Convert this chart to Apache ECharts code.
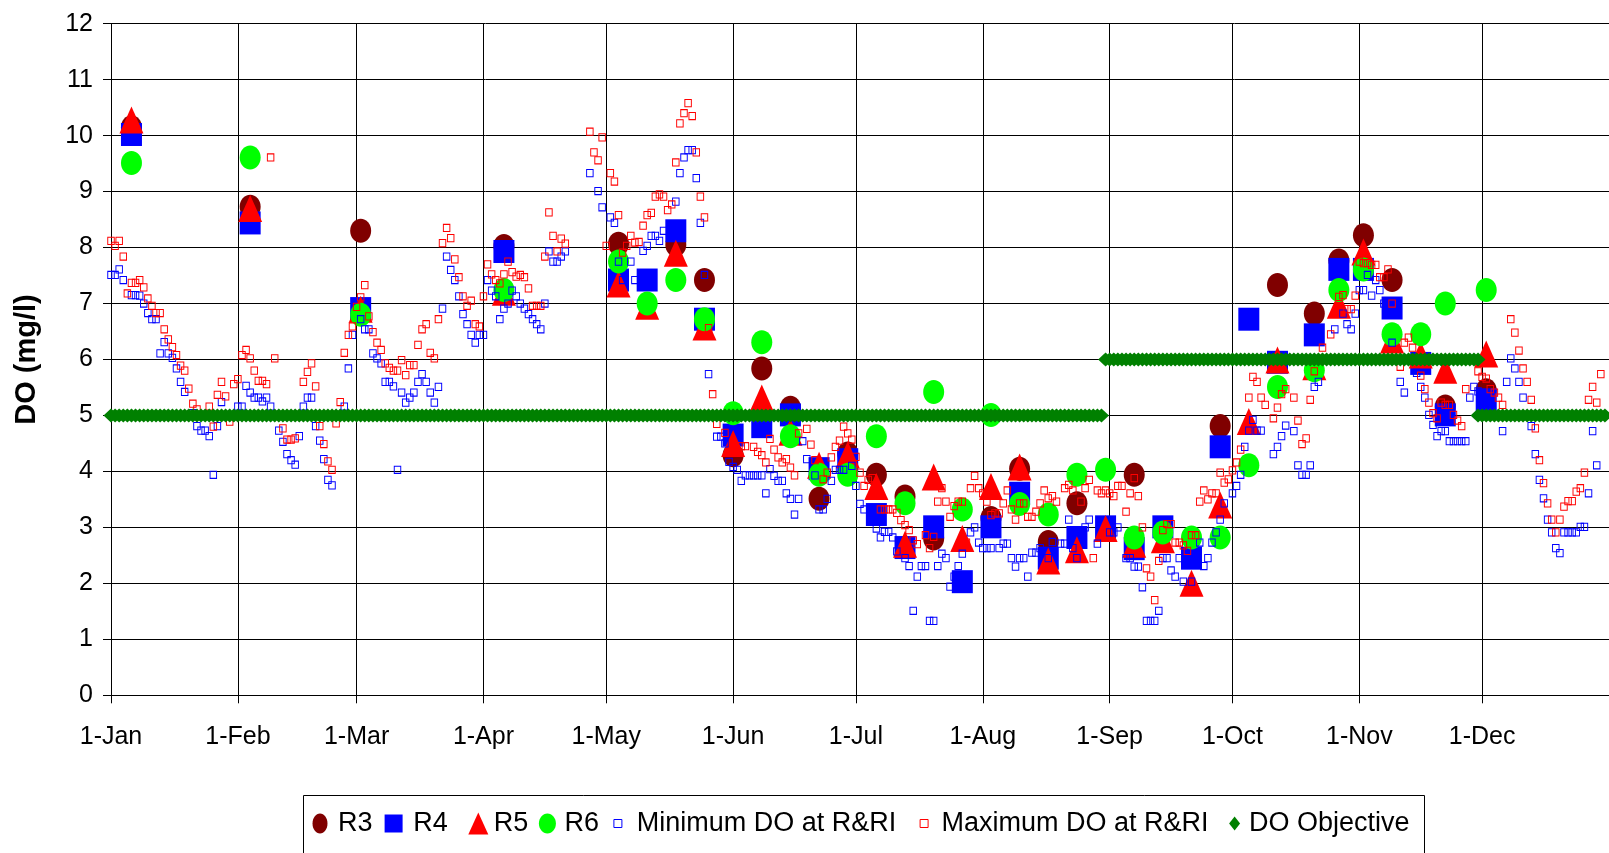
<!DOCTYPE html>
<html>
<head>
<meta charset="utf-8">
<title>DO (mg/l)</title>
<script src="https://cdn.jsdelivr.net/npm/echarts@6/dist/echarts.min.js"></script>
<style>
  html, body { margin: 0; padding: 0; background: #ffffff; }
  #chart { width: 1609px; height: 853px; }
</style>
</head>
<body>
<div id="chart"></div>
<script>
// Day-of-year positions (leap year) of the month starts on the x axis
const dayTicks = [0, 31, 60, 91, 121, 152, 182, 213, 244, 274, 305, 335];
const dayTickLabels = ['1-Jan', '1-Feb', '1-Mar', '1-Apr', '1-May', '1-Jun', '1-Jul', '1-Aug', '1-Sep', '1-Oct', '1-Nov', '1-Dec'];

// Station samples: [day of year, DO mg/l]
const r3 = [[5,10.15],[34,8.73],[61,8.30],[96,8.03],[124,8.07],[138,8.05],[145,7.42],[152,4.29],[159,5.84],[166,5.14],[173,3.51],[180,4.32],[187,3.94],[194,3.55],[201,2.80],[215,3.17],[222,4.05],[229,2.74],[236,3.43],[250,3.94],[271,4.81],[285,7.33],[294,6.82],[300,7.77],[306,8.22],[313,7.42],[326,5.16],[336,5.45]];
const r4 = [[5,10.02],[34,8.44],[61,6.91],[96,7.93],[124,7.42],[131,7.42],[138,8.30],[145,6.72],[152,4.65],[159,4.80],[166,5.01],[173,4.05],[180,4.21],[187,3.23],[194,2.64],[201,3.01],[208,2.03],[215,3.01],[222,3.61],[229,2.45],[236,2.82],[243,3.01],[250,2.62],[257,3.01],[264,2.45],[271,4.44],[278,6.72],[285,5.95],[294,6.44],[300,7.61],[306,7.61],[313,6.92],[320,5.93],[326,5.01],[336,5.28]];
const r5 = [[5,10.28],[34,8.70],[61,6.90],[96,7.20],[124,7.35],[131,6.95],[138,7.90],[145,6.58],[152,4.50],[159,5.31],[166,4.70],[173,4.11],[180,4.30],[187,3.73],[194,2.70],[201,3.90],[208,2.80],[215,3.73],[222,4.08],[229,2.40],[236,2.60],[243,2.98],[250,2.70],[257,2.78],[264,2.00],[271,3.40],[278,4.89],[285,5.99],[294,5.87],[300,6.97],[306,7.92],[313,6.35],[320,6.08],[326,5.81],[336,6.10]];
const r6 = [[5,9.51],[34,9.61],[61,6.80],[96,7.24],[124,7.75],[131,7.00],[138,7.42],[145,6.72],[152,5.04],[159,6.31],[166,4.63],[173,3.94],[180,3.94],[187,4.63],[194,3.43],[201,5.42],[208,3.32],[215,5.01],[222,3.42],[229,3.23],[236,3.94],[243,4.03],[250,2.82],[257,2.91],[264,2.82],[271,2.82],[278,4.11],[285,5.51],[294,5.81],[300,7.24],[306,7.61],[313,6.45],[320,6.45],[326,7.00],[336,7.24]];

// Daily minimum DO at R&RI: [day of year, mg/l]
const minDO = [[0,7.51],[1,7.51],[2,7.61],[3,7.42],[5,7.15],[6,7.15],[7,7.14],[8,7.00],[9,6.83],[10,6.72],[11,6.72],[12,6.11],[13,6.31],[14,6.11],[15,6.03],[16,5.84],[17,5.60],[18,5.42],[20,5.04],[21,4.81],[22,4.73],[23,4.73],[24,4.63],[25,3.94],[26,4.81],[27,5.24],[31,5.16],[32,5.16],[33,5.53],[34,5.41],[35,5.32],[36,5.32],[37,5.25],[38,5.32],[39,5.16],[41,4.73],[42,4.53],[43,4.31],[44,4.20],[45,4.12],[46,4.63],[47,5.16],[48,5.32],[49,5.32],[50,4.81],[51,4.55],[52,4.22],[53,3.85],[54,3.75],[57,5.16],[58,5.84],[59,6.44],[61,6.72],[62,6.54],[63,6.54],[64,6.11],[65,6.02],[66,5.93],[67,5.60],[68,5.60],[69,5.52],[70,4.03],
  [71,5.41],[72,5.23],[73,5.32],[74,5.41],[75,5.60],[76,5.74],[77,5.60],[78,5.41],[79,5.23],[80,5.51],[81,6.91],[82,7.84],[83,7.60],[84,7.42],[85,7.13],[86,6.81],[87,6.63],[88,6.44],[89,6.30],[90,6.44],[91,6.44],[92,7.42],[93,7.23],[94,7.13],[95,6.72],[96,6.91],[97,7.00],[98,7.23],[99,7.13],[100,7.00],[101,6.91],[102,6.81],[103,6.72],[104,6.63],[105,6.54],[106,7.00],[107,7.93],[108,7.75],[109,7.75],[110,7.84],[111,7.93],[117,9.33],[119,9.01],[120,8.72],[122,8.54],[123,8.44],[124,7.75],[125,7.42],[127,7.75],[128,7.42],[130,7.94],[131,8.03],[132,8.21],[133,8.21],[134,8.12],[135,8.30],[138,8.82],[139,9.33],[140,9.61],[141,9.74],[142,9.74],[143,9.24],[144,8.44],[145,7.51],[146,5.74],
  [148,4.62],[149,4.62],[150,4.50],[151,4.17],[152,4.08],[153,4.03],[154,3.83],[155,3.93],[156,3.93],[157,3.93],[158,3.93],[159,3.93],[160,3.61],[161,4.04],[162,3.92],[163,3.83],[164,3.83],[165,3.61],[166,3.51],[167,3.23],[168,3.51],[169,4.54],[170,4.22],[172,3.93],[173,3.32],[174,3.32],[175,3.51],[176,3.83],[177,4.03],[178,4.03],[179,4.03],[181,4.10],[182,3.74],[183,3.42],[184,3.32],[187,2.98],[188,2.82],[189,2.92],[190,2.92],[191,2.82],[192,2.57],[194,2.45],[195,2.31],[196,1.51],[197,2.12],[198,2.31],[199,2.31],[200,1.33],[201,1.33],[202,2.31],[203,2.53],[204,2.45],[205,1.94],[206,2.12],[207,2.31],[208,2.53],[210,2.91],[211,3.00],[212,2.73],[213,2.63],[214,2.63],
  [215,2.63],[217,2.63],[218,2.71],[219,2.71],[220,2.45],[221,2.30],[222,2.45],[223,2.45],[224,2.12],[225,2.55],[226,2.55],[227,2.63],[229,2.45],[230,2.74],[232,2.71],[233,2.71],[234,3.14],[235,2.63],[236,2.45],[238,3.00],[239,3.14],[241,2.71],[244,2.91],[245,2.91],[246,3.00],[248,2.45],[249,2.45],[250,2.30],[251,2.30],[252,1.93],[253,1.33],[254,1.33],[255,1.33],[256,1.51],[257,2.45],[258,2.45],[259,2.23],[260,2.12],[261,2.45],[262,2.03],[264,2.03],[266,2.73],[267,2.31],[268,2.45],[269,2.73],[270,2.91],[271,3.14],[272,3.43],[274,3.61],[275,3.74],[276,3.94],[277,4.44],[278,4.73],[279,4.92],[280,4.73],[281,4.73],[284,4.31],[285,4.44],[286,4.63],[287,4.82],
  [289,4.72],[290,4.11],[291,3.94],[292,3.94],[293,4.11],[294,5.51],[295,5.60],[299,6.54],[301,6.82],[302,6.63],[303,6.54],[304,6.82],[305,7.24],[306,7.24],[307,7.51],[308,7.14],[309,7.42],[310,7.24],[311,7.00],[313,6.30],[315,5.60],[316,5.41],[319,5.76],[320,5.51],[321,5.32],[322,5.01],[323,4.83],[324,4.63],[325,4.72],[326,4.72],[327,4.54],[328,4.54],[329,4.54],[330,4.54],[331,4.54],[332,5.32],[333,5.51],[334,5.43],[340,4.72],[341,5.60],[342,6.02],[343,5.84],[344,5.60],[345,5.32],[347,4.81],[348,4.31],[349,3.85],[350,3.52],[351,3.14],[352,2.91],[353,2.63],[354,2.54],[355,2.91],[356,2.91],[357,2.91],[358,2.91],[359,3.01],[360,3.01],[361,3.61],[362,4.72],[363,4.11]];

// Daily maximum DO at R&RI: [day of year, mg/l]
const maxDO = [[0,8.12],[1,8.03],[2,8.12],[3,7.84],[4,7.18],[5,7.37],[6,7.37],[7,7.42],[8,7.29],[9,7.09],[10,6.96],[11,6.83],[12,6.83],[13,6.54],[14,6.36],[15,6.22],[16,6.08],[17,5.89],[18,5.80],[19,5.48],[20,5.21],[21,5.11],[24,5.16],[25,4.80],[26,5.37],[27,5.60],[28,5.34],[29,4.89],[30,5.56],[31,5.65],[32,6.08],[33,6.17],[34,6.02],[35,5.80],[36,5.62],[37,5.62],[38,5.56],[39,9.61],[40,6.02],[42,4.77],[43,4.57],[44,4.57],[45,4.59],[47,5.60],[48,5.78],[49,5.93],[50,5.52],[51,4.81],[52,4.49],[53,4.18],[54,4.03],[55,4.86],[56,5.24],[57,6.12],[58,6.44],[59,6.59],[60,6.94],[61,7.11],[62,7.33],[63,6.77],[64,6.49],[65,6.30],[66,6.17],[67,5.93],[68,5.85],[69,5.80],[70,5.80],
  [71,5.99],[72,5.72],[73,5.90],[74,5.90],[75,6.26],[76,6.54],[77,6.63],[78,6.12],[79,6.02],[80,6.72],[81,8.08],[82,8.35],[83,8.17],[84,7.79],[85,7.47],[86,7.13],[87,6.96],[88,7.05],[89,6.63],[90,6.59],[91,7.13],[92,7.70],[93,7.52],[94,7.42],[95,7.36],[96,7.52],[97,7.75],[98,7.56],[99,7.48],[100,7.51],[101,7.47],[102,7.27],[103,6.96],[104,6.96],[105,6.96],[106,7.84],[107,8.63],[108,8.21],[109,7.93],[110,8.16],[111,8.07],[117,10.07],[118,9.70],[119,9.56],[120,9.97],[121,8.03],[122,9.33],[123,9.18],[124,8.58],[125,7.91],[126,8.03],[127,8.21],[128,8.09],[129,8.10],[130,8.39],[131,8.58],[132,8.62],[133,8.91],[134,8.95],[135,8.91],[136,8.67],[137,8.77],[138,9.52],[139,10.22],[140,10.40],[141,10.58],[142,10.35],[143,9.70],[144,8.91],[145,8.54],[146,6.56],[147,5.38],
  [148,4.85],[150,4.69],[154,4.45],[155,4.45],[157,4.44],[158,4.35],[159,4.29],[160,4.16],[161,4.58],[162,4.39],[163,4.25],[164,4.16],[165,4.22],[166,4.07],[167,3.93],[168,4.68],[170,4.76],[171,4.48],[172,4.20],[174,3.86],[175,3.98],[176,4.25],[177,4.44],[178,4.55],[179,4.80],[180,4.68],[181,4.57],[182,4.26],[183,3.98],[184,3.74],[185,3.85],[186,3.88],[188,3.32],[189,3.32],[190,3.32],[191,3.32],[192,3.26],[193,3.13],[194,3.04],[195,2.95],[196,2.77],[197,2.70],[199,2.86],[200,2.63],[201,2.83],[202,3.46],[203,3.70],[204,3.46],[205,3.19],[206,3.38],[207,3.46],[208,3.46],[209,2.73],[210,3.70],[211,3.92],[212,3.70],[213,3.61],[214,3.46],
  [215,3.22],[216,3.25],[217,3.25],[218,3.43],[219,3.66],[220,3.32],[221,3.14],[222,3.43],[223,3.43],[224,3.19],[225,3.19],[226,3.28],[227,3.43],[228,3.66],[229,3.52],[230,3.56],[231,3.46],[233,3.70],[234,3.76],[235,3.66],[237,3.46],[238,3.70],[239,3.85],[240,2.45],[241,3.66],[242,3.61],[243,3.66],[244,3.61],[245,3.56],[246,3.74],[247,3.74],[248,3.28],[249,3.61],[250,3.88],[251,3.56],[252,3.00],[253,2.27],[254,2.12],[255,1.70],[256,2.40],[257,2.95],[258,3.06],[259,3.06],[260,2.73],[261,2.73],[262,2.68],[263,2.58],[264,2.86],[265,2.86],[266,3.46],[267,3.66],[268,3.50],[269,3.61],[270,3.61],[271,3.98],[272,3.80],[273,3.86],[274,4.02],[275,4.16],[276,4.39],[278,5.32],[279,5.69],[280,5.60],[281,5.32],[282,5.19],[284,4.95],[285,5.14],[286,5.38],[287,5.47],
  [289,5.32],[290,4.91],[291,4.49],[292,4.59],[293,5.28],[294,5.79],[296,6.21],[298,6.45],[300,7.12],[301,7.15],[302,6.90],[303,6.90],[304,7.14],[305,7.75],[306,7.72],[307,7.72],[308,7.69],[309,7.69],[310,7.47],[311,7.47],[312,7.61],[313,7.00],[315,5.87],[316,6.30],[317,6.39],[318,6.21],[320,5.71],[321,5.47],[322,5.23],[323,5.04],[324,4.95],[325,5.23],[326,5.19],[327,5.19],[328,5.01],[329,4.91],[330,4.81],[331,5.47],[334,5.79],[335,5.69],[336,5.66],[337,5.47],[338,5.41],[339,5.32],[340,5.19],[342,6.72],[343,6.48],[344,6.16],[345,5.84],[346,5.60],[347,5.28],[348,4.77],[349,4.20],[350,3.79],[351,3.43],[352,3.14],[353,2.91],[354,3.14],[355,3.37],[356,3.47],[357,3.47],[358,3.64],[359,3.70],[360,3.98],[361,5.28],[362,5.51],[363,5.23],[364,5.74]];

// DO objective: [first day, last day, mg/l], one diamond per day
const objectivePeriods = [[0, 242, 5], [243, 334, 6], [334, 365, 5]];
const objectiveDaily = [];
objectivePeriods.forEach(function (p) {
  for (let d = p[0]; d <= p[1]; d++) objectiveDaily.push([d, p[2]]);
});

const FONT = "'Liberation Sans', Arial, sans-serif";
const ELLIPSE_PATH = 'path://M1,0 C1,0.5523 0.5523,1 0,1 C-0.5523,1 -1,0.5523 -1,0 C-1,-0.5523 -0.5523,-1 0,-1 C0.5523,-1 1,-0.5523 1,0 Z';
// legend icon outlines, drawn at their own aspect ratio inside each item box
const ICON_R3 = 'path://M0.75,0 C0.75,0.5523 0.4142,1 0,1 C-0.4142,1 -0.75,0.5523 -0.75,0 C-0.75,-0.5523 -0.4142,-1 0,-1 C0.4142,-1 0.75,-0.5523 0.75,0 Z';
const ICON_R6 = 'path://M0.85,0 C0.85,0.5523 0.4695,1 0,1 C-0.4695,1 -0.85,0.5523 -0.85,0 C-0.85,-0.5523 -0.4695,-1 0,-1 C0.4695,-1 0.85,-0.5523 0.85,0 Z';
const ICON_SQUARE = 'path://M0,0 L18,0 L18,18 L0,18 Z';
const ICON_TRIANGLE = 'path://M10,0 L20,22 L0,22 Z';
const ICON_SMALL = 'path://M0,0 L8,0 L8,8 L0,8 Z';
const ICON_DIAMOND = 'path://M5.5,0 L11,7 L5.5,14 L0,7 Z';

const chart = echarts.init(document.getElementById('chart'), null, { renderer: 'canvas', width: 1609, height: 853 });

function legendAt(name, left, icon, w, h, itemStyle) {
  const item = { name: name, icon: icon };
  if (itemStyle) item.itemStyle = itemStyle;
  return {
    show: true, orient: 'horizontal', left: left, top: 810, padding: 0,
    itemWidth: w, itemHeight: h, symbolKeepAspect: true, selectedMode: false,
    data: [item],
    textStyle: { fontSize: 27, color: '#000', fontFamily: FONT }
  };
}

const option = {
  animation: false,
  backgroundColor: '#ffffff',
  grid: { left: 111, right: -2.4, top: 23.7, bottom: 157.7, containLabel: false },
  xAxis: {
    type: 'value', min: 0, max: 366,
    axisLine: { show: true, onZero: false, lineStyle: { color: '#000', width: 1 } },
    axisTick: { show: true, length: 8, customValues: dayTicks, lineStyle: { color: '#000' } },
    axisLabel: {
      customValues: dayTicks, margin: 29, fontSize: 25, color: '#000', fontFamily: FONT,
      formatter: function (v) { const i = dayTicks.indexOf(Math.round(v)); return i >= 0 ? dayTickLabels[i] : ''; }
    },
    splitLine: { show: true, lineStyle: { color: '#000', width: 1 } }
  },
  yAxis: {
    type: 'value', min: 0, max: 12, interval: 1,
    name: 'DO (mg/l)', nameLocation: 'middle', nameGap: 70,
    nameTextStyle: { fontSize: 29, fontWeight: 'bold', color: '#000', fontFamily: FONT },
    axisLine: { show: true, lineStyle: { color: '#000', width: 1 } },
    axisTick: { show: true, length: 8, lineStyle: { color: '#000' } },
    axisLabel: { margin: 18, fontSize: 25, color: '#000', fontFamily: FONT },
    splitLine: { show: true, lineStyle: { color: '#000', width: 1 } }
  },
  legend: [
    legendAt('R3', 312.5, ICON_R3, 26, 20),
    legendAt('R4', 384.6, ICON_SQUARE, 29.4, 18),
    legendAt('R5', 468.3, ICON_TRIANGLE, 21, 22),
    legendAt('R6', 538.9, ICON_R6, 24, 20),
    legendAt('Minimum DO at R&RI', 613.4, ICON_SMALL, 27.6, 8, { color: '#ffffff', borderColor: '#0000ff', borderWidth: 1 }),
    legendAt('Maximum DO at R&RI', 919.6, ICON_SMALL, 24.6, 8, { color: '#ffffff', borderColor: '#ff0000', borderWidth: 1 }),
    legendAt('DO Objective', 1229.1, ICON_DIAMOND, 18.8, 14)
  ],
  graphic: [{
    type: 'rect', silent: true, z: -1,
    shape: { x: 303.5, y: 795.5, width: 1121, height: 100 },
    style: { fill: 'none', stroke: '#000', lineWidth: 1 }
  }],
  series: [
    { name: 'R3', type: 'scatter', data: r3, symbol: ELLIPSE_PATH, symbolSize: [21, 24], itemStyle: { color: '#800000', opacity: 1 } },
    { name: 'R4', type: 'scatter', data: r4, symbol: 'rect', symbolSize: [21, 23], itemStyle: { color: '#0000ff', opacity: 1 } },
    { name: 'R5', type: 'scatter', data: r5, symbol: 'triangle', symbolSize: [24, 27], itemStyle: { color: '#ff0000', opacity: 1 } },
    { name: 'R6', type: 'scatter', data: r6, symbol: ELLIPSE_PATH, symbolSize: [21, 24], itemStyle: { color: '#00ff00', opacity: 1 } },
    { name: 'Minimum DO at R&RI', type: 'scatter', data: minDO, symbol: 'rect', symbolSize: [6.5, 7.2],
      itemStyle: { color: 'rgba(255,255,255,0)', borderColor: '#0000ff', borderWidth: 1, opacity: 1 } },
    { name: 'Maximum DO at R&RI', type: 'scatter', data: maxDO, symbol: 'rect', symbolSize: [6.5, 7.2],
      itemStyle: { color: 'rgba(255,255,255,0)', borderColor: '#ff0000', borderWidth: 1, opacity: 1 } },
    { name: 'DO Objective', type: 'scatter', data: objectiveDaily, symbol: 'diamond', symbolSize: [15, 14],
      itemStyle: { color: '#008000', opacity: 1 } }
  ]
};

chart.setOption(option);
</script>
</body>
</html>
